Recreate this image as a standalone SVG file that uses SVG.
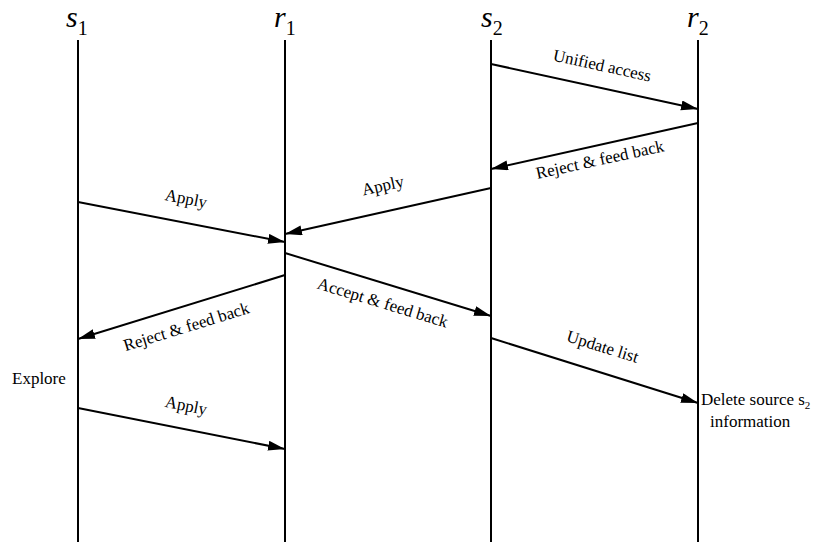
<svg xmlns="http://www.w3.org/2000/svg" width="817" height="542" viewBox="0 0 817 542">
<defs>
<style>
.life{stroke:#000;stroke-width:2;fill:none}
.msg{stroke:#000;stroke-width:2;fill:none;marker-end:url(#ah)}
.hd{font-family:"Liberation Serif",serif;font-size:30px;font-style:italic;fill:#000}
.sub{font-family:"Liberation Serif",serif;font-size:20px;font-style:normal;fill:#000}
.lbl{font-family:"Liberation Serif",serif;font-size:17px;fill:#000;text-anchor:middle}
.note{font-family:"Liberation Serif",serif;font-size:17px;fill:#000}
</style>
<marker id="ah" markerUnits="userSpaceOnUse" markerWidth="18" markerHeight="12" refX="17" refY="5" orient="auto">
<path d="M0,0 L17,5 L0,10 z" fill="#000"/>
</marker>
</defs>
<rect width="817" height="542" fill="#fff"/>
<g id="s1">
<text class="hd" x="66" y="27">s<tspan class="sub" y="35">1</tspan></text>
<line class="life" x1="78" y1="40" x2="78" y2="542"/>
</g>
<g id="r1">
<text class="hd" x="274" y="27">r<tspan class="sub" y="35">1</tspan></text>
<line class="life" x1="285" y1="40" x2="285" y2="542"/>
</g>
<g id="s2">
<text class="hd" x="481" y="27">s<tspan class="sub" y="35">2</tspan></text>
<line class="life" x1="491" y1="40" x2="491" y2="542"/>
</g>
<g id="r2">
<text class="hd" x="687" y="27">r<tspan class="sub" y="35">2</tspan></text>
<line class="life" x1="698" y1="40" x2="698" y2="542"/>
</g>
<g id="connectors">
<line class="msg" x1="491" y1="64" x2="698" y2="109"/>
<line class="msg" x1="698" y1="123" x2="491" y2="169"/>
<line class="msg" x1="491" y1="188" x2="285" y2="234"/>
<line class="msg" x1="78" y1="202" x2="285" y2="242"/>
<line class="msg" x1="285" y1="253" x2="491" y2="316"/>
<line class="msg" x1="285" y1="275" x2="78" y2="339"/>
<line class="msg" x1="491" y1="338" x2="698" y2="403"/>
<line class="msg" x1="78" y1="408" x2="285" y2="449"/>
</g>
<g id="labels">
<text class="lbl" transform="translate(601,71) rotate(12.3)">Unified access</text>
<text class="lbl" transform="translate(601,165) rotate(-12.3)">Reject &amp; feed back</text>
<text class="lbl" transform="translate(384,191) rotate(-12.5)">Apply</text>
<text class="lbl" transform="translate(185,204) rotate(10.9)">Apply</text>
<text class="lbl" transform="translate(381,308) rotate(16.9)">Accept &amp; feed back</text>
<text class="lbl" transform="translate(188,332) rotate(-17.2)">Reject &amp; feed back</text>
<text class="lbl" transform="translate(601,352) rotate(17.2)">Update list</text>
<text class="lbl" transform="translate(185,411) rotate(11.2)">Apply</text>
</g>
<g id="notes">
<text class="note" x="12" y="384">Explore</text>
<text class="note" x="701" y="405">Delete source s<tspan font-size="11" y="409">2</tspan></text>
<text class="note" x="710" y="427">information</text>
</g>
</svg>
